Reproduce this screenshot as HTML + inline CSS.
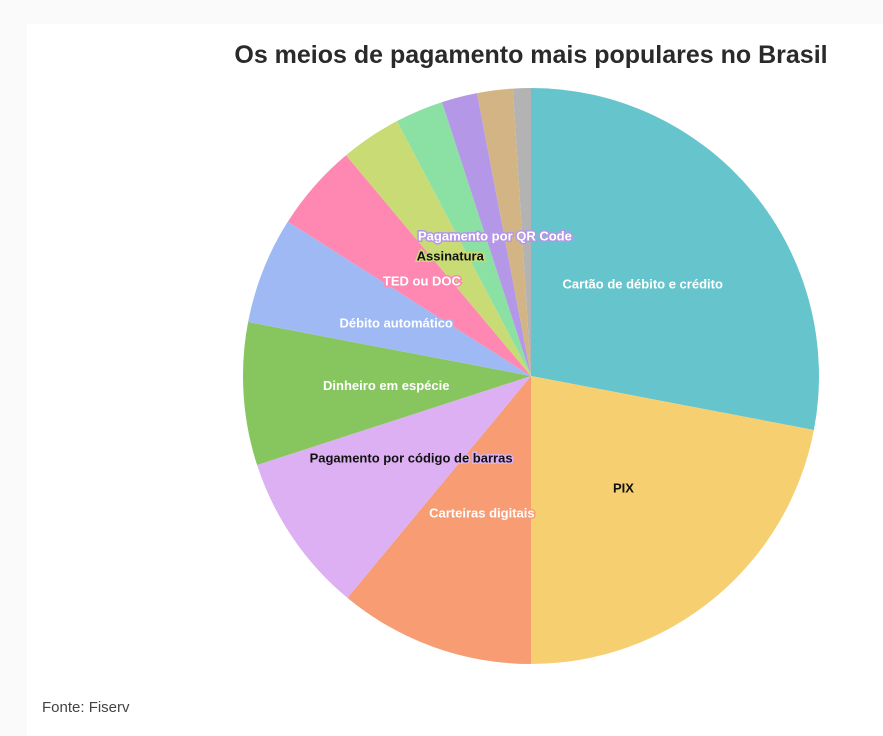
<!DOCTYPE html>
<html><head><meta charset="utf-8"><style>
html,body{margin:0;padding:0;background:#fafafa;}
#wrap{position:absolute;left:27px;top:24px;width:856px;height:712px;background:#fff;}
svg{position:absolute;left:0;top:0;}
text{font-family:"Liberation Sans",sans-serif;}
</style></head><body>
<div id="wrap"></div>
<svg width="883" height="736" id="chart">
<text x="531" y="63" text-anchor="middle" font-size="25" font-weight="bold" fill="#2a2a2a">Os meios de pagamento mais populares no Brasil</text>
<text x="42" y="712" font-size="15" fill="#444">Fonte: Fiserv</text>
<g id="slices"></g><g id="labels"></g>
</svg>
<script>
const categories=["Cartão de débito e crédito","PIX","Carteiras digitais","Pagamento por código de barras","Dinheiro em espécie","Débito automático","TED ou DOC","Assinatura","Pagamento por aproximação","Pagamento por QR Code","Boleto parcelado","Outros"];
const values=[28,22,11,9,8,6,4.9,3.4,2.7,2,2,1];
const showLabel=[true,true,true,true,true,true,true,true,false,true,false,false];
const darkText=[false,true,false,true,false,false,false,true,false,false,false,false];
const colors=["#66C5CC","#F6CF71","#F89C74","#DCB0F2","#87C55F","#9EB9F3","#FE88B1","#C9DB74","#8BE0A4","#B497E7","#D3B484","#B3B3B3"];
const cx=531,cy=376,R=288,LR=145;
const total=values.reduce((a,b)=>a+b,0);
const ns="http://www.w3.org/2000/svg";
const gS=document.getElementById('slices'),gL=document.getElementById('labels');
function pt(a,r){return [cx+r*Math.sin(a),cy-r*Math.cos(a)];}
let acc=0;
values.forEach((v,i)=>{
  const a0=acc/total*2*Math.PI;acc+=v;const a1=acc/total*2*Math.PI;
  const p0=pt(a0,R),p1=pt(a1,R);
  const path=document.createElementNS(ns,'path');
  path.setAttribute('d',`M${cx},${cy}L${p0[0]},${p0[1]}A${R},${R} 0 ${a1-a0>Math.PI?1:0} 1 ${p1[0]},${p1[1]}Z`);
  path.setAttribute('fill',colors[i]);
  
  
  gS.appendChild(path);
  if(showLabel[i]){
    const m=pt((a0+a1)/2,LR);
    const t=document.createElementNS(ns,'text');
    t.setAttribute('x',m[0]);t.setAttribute('y',m[1]+5);
    t.setAttribute('text-anchor','middle');t.setAttribute('font-size','13');t.setAttribute('font-weight','bold');
    t.setAttribute('fill',darkText[i]?'#111':'#fff');
    t.setAttribute('stroke',colors[i]);t.setAttribute('stroke-width','3');t.setAttribute('paint-order','stroke');
    t.textContent=categories[i];
    
    
    gL.appendChild(t);
  }
});
</script>
</body></html>
